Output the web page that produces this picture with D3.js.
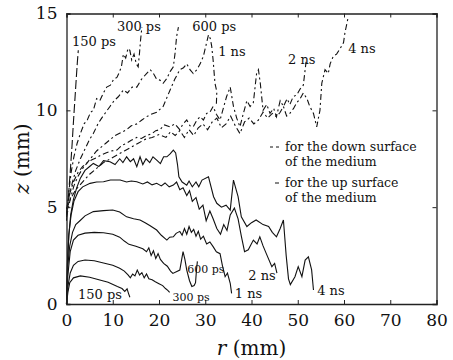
<!DOCTYPE html>
<html>
<head>
<meta charset="utf-8">
<script src="https://cdn.jsdelivr.net/npm/d3@7"></script>
<style>
  body { margin: 0; background: #fff; }
  text { font-family: "DejaVu Serif", serif; fill: #111; }
</style>
</head>
<body>
<div id="chart"></div>
<script>
// up surface (solid lines), [r (mm), z (mm)]
const up150ps = [[0,0],[0.3,0.6],[0.7,1.1],[1.5,1.35],[3,1.45],[5,1.38],[7,1.25],[9,1.12],[11,0.9],[12,0.8],[12.6,0.65],[13.1,0.78],[13.4,0.55],[13.7,0.35]];
const up300ps = [[0,0],[0.3,0.9],[0.8,1.6],[1.5,2.0],[2.5,2.2],[4,2.27],[6,2.23],[8,2.12],[10,2.0],[11.5,1.85],[12.5,1.7],[13.3,1.5],[13.8,1.35],[14.3,1.55],[14.8,1.45],[15.3,1.75],[15.8,1.5],[16.3,1.62],[16.8,1.35],[17.3,1.55],[17.8,1.3],[18.5,1.25],[19.2,1.15],[20,1.05],[20.8,0.95],[21.4,0.8],[21.9,0.7],[22.3,0.6]];
const up600ps = [[0,0],[0.3,1.5],[0.8,2.7],[1.5,3.3],[2.5,3.55],[4,3.66],[6,3.7],[8,3.68],[10,3.6],[11.5,3.45],[12.5,3.25],[13.5,3.08],[15,2.98],[16.5,2.85],[17.3,2.7],[17.8,2.9],[18.3,2.5],[18.8,2.75],[19.3,2.35],[19.8,2.6],[20.3,2.3],[21,2.1],[21.8,1.95],[22.5,1.7],[23,1.58],[24.5,1.75],[25.2,2.7],[25.6,2.3],[26,1.75],[26.6,1.2],[27.1,0.9],[27.6,0.95],[27.9,1.1],[28.1,1.75],[28.3,2.2]];
const up1ns = [[0,0],[0.3,2.0],[0.7,3.0],[1.3,3.7],[2,4.1],[2.9,4.3],[4,4.55],[5.8,4.77],[8,4.82],[10,4.85],[11.5,4.75],[13,4.5],[14.5,4.4],[15.9,4.34],[17,4.2],[18,4.05],[19.5,3.82],[20.5,3.55],[21.7,3.3],[22.3,3.45],[23.1,3.47],[23.7,3.65],[24.5,3.75],[25,3.55],[25.5,3.9],[26,3.6],[26.5,4.0],[27,3.7],[27.5,3.85],[28,3.5],[28.5,3.75],[29,3.35],[29.6,3.5],[30.3,3.1],[31,3.2],[31.7,2.96],[32.4,2.7],[33.2,2.6],[33.7,2.0],[34.3,1.41],[34.8,1.6],[35.4,1.07],[35.7,0.55]];
const up2ns = [[0,0],[0.2,2.2],[0.5,3.6],[1,4.6],[1.6,5.3],[2.5,5.8],[3.5,6.05],[5.1,6.23],[6.5,6.3],[8,6.31],[9.5,6.4],[11.6,6.4],[13,6.3],[14,6.35],[15.2,6.31],[16.5,6.2],[17.5,6.3],[18.5,6.15],[19.5,6.23],[20.5,6.1],[21.3,6.25],[22.2,6.05],[23.1,6.14],[23.8,6.3],[24.5,5.9],[25.2,6.0],[26,5.6],[26.6,5.85],[27.2,5.3],[28,5.5],[28.7,4.9],[29.5,5.1],[30.2,4.3],[31,4.8],[31.7,4.4],[32.5,3.9],[33.3,3.6],[34,4.1],[34.7,3.8],[35.4,4.6],[36.3,4.95],[37.1,4.4],[37.8,3.5],[38.5,2.7],[39.3,2.8],[40.4,3.3],[41.2,3.1],[41.8,3.47],[42.5,3.0],[43.2,2.6],[44.4,1.93],[45.0,2.1],[45.5,1.6]];
const up4ns = [[0,0],[0.2,2],[0.5,3.5],[0.9,4.6],[1.5,5.4],[2.2,6.0],[3,6.5],[4,6.9],[5,7.1],[5.8,7.26],[7,7.1],[8,7.4],[9.4,7.35],[10.5,7.2],[11.5,7.5],[12.2,7.3],[13,7.6],[13.8,7.35],[14.5,7.5],[15.2,7.09],[15.9,7.6],[16.5,7.2],[17.2,7.5],[18,7.3],[18.7,7.6],[19.5,7.43],[20.3,7.25],[21,7.6],[21.7,7.6],[22.4,7.75],[23.1,7.95],[23.6,7.8],[24.0,7.2],[24.3,6.57],[25,6.3],[26,6.14],[26.5,6.35],[27.2,6.05],[28,6.3],[28.6,6.05],[29.3,6.4],[30.7,6.57],[31.8,5.54],[32.5,5.2],[33.5,5.0],[34.5,5.1],[35.4,4.85],[36.1,6.4],[37.1,5.54],[37.8,4.5],[39,4.0],[40,4.2],[41,4.34],[42.5,4.1],[43.7,4.0],[44.5,3.7],[45.4,3.47],[46.2,3.9],[46.9,4.34],[47.5,2.5],[48.0,1.3],[48.4,1.0],[49.4,1.41],[50.1,1.93],[50.9,1.41],[51.6,2.27],[52.3,2.44],[53.0,1.76],[53.4,0.72]];

// down surface (dashed lines)
const down150ps = [[0,4.3],[0.4,5.5],[0.8,6.8],[1.2,8.2],[1.5,9.4],[1.8,10.5],[2.1,11.6],[2.35,12.5],[2.55,13.1]];
const down300ps = [[0,4.6],[0.5,5.8],[1,6.8],[1.6,7.6],[2.3,8.3],[3,8.8],[3.8,9.3],[4.5,9.5],[5.2,9.9],[5.8,10.0],[6.5,10.6],[7.2,10.5],[8,10.9],[8.7,11.2],[9.5,11.3],[10.2,11.6],[10.9,11.7],[11.5,12.0],[11.9,12.3],[12.3,12.9],[12.8,12.7],[13.3,13.2],[13.7,13.1],[14.1,12.6],[14.6,12.9],[15.1,12.4],[15.5,12.25],[15.8,13.0],[16.0,13.6],[16.3,14.3]];
const down600ps = [[0,4.7],[0.6,5.6],[1.3,6.3],[2,6.9],[3,7.5],[4,8.0],[5,8.5],[5.8,8.8],[6.8,9.3],[7.6,9.6],[8.5,9.9],[9.4,10.2],[10.3,10.5],[11.2,10.7],[12.3,11.05],[13.2,10.9],[14.2,11.2],[15.2,11.2],[16.2,11.6],[17.3,11.9],[18.1,12.1],[18.8,11.9],[19.5,11.6],[20.2,11.56],[20.9,11.4],[21.7,11.65],[22.4,12.0],[23.1,12.25],[23.5,13.0],[23.8,13.8],[24.2,14.3]];
const down1ns = [[0,4.5],[0.8,5.4],[1.6,6.1],[2.5,6.6],[3.5,7.0],[4.5,7.3],[5.5,7.6],[6.5,7.9],[7.5,8.1],[8.5,8.3],[9.5,8.5],[10.5,8.7],[11.8,8.85],[13,9.0],[14,9.2],[15.2,9.3],[16.3,9.5],[17.3,9.67],[18.3,9.8],[19.5,9.9],[20.9,10.2],[21.6,10.6],[22.4,11.05],[23.4,11.6],[24.5,12.1],[25.3,12.2],[26,12.4],[26.7,12.1],[27.4,11.9],[28.2,12.1],[28.9,12.4],[29.6,12.8],[30.3,13.5],[30.7,13.9],[31.1,13.7],[31.4,13.3],[31.7,12.6],[32.1,11.4],[32.5,10.96],[32.4,10.3]];
const down2ns = [[0,4.9],[0.7,5.7],[1.5,6.3],[2.5,6.8],[3.5,7.1],[4.5,7.3],[5.5,7.45],[6.5,7.55],[7.5,7.7],[8.5,7.8],[9.7,7.9],[10.9,7.95],[12,8.2],[13,8.3],[14,8.45],[15.2,8.6],[16.2,8.55],[17.3,8.7],[18.5,8.8],[19.3,8.95],[20.2,9.0],[21.2,9.25],[22.4,9.15],[23.4,9.3],[24.5,9.0],[25.2,9.3],[26,9.5],[26.7,9.2],[27.4,9.15],[28.2,9.5],[28.9,9.67],[29.6,9.5],[30.3,9.84],[31,9.9],[31.7,10.2],[32.4,9.8],[33.2,9.5],[33.9,10.1],[34.6,10.7],[35.4,11.2],[36.1,10.2],[36.8,9.6],[37.5,9.15],[38.2,9.8],[39,10.5],[39.7,10.2],[40.4,10.4],[41.1,11.9],[41.5,12.1],[41.9,11.4],[42.5,10.0],[43.3,10.3],[44,9.84],[44.8,10.1],[45.4,9.67],[46.2,10.5],[46.9,10.2],[47.7,10.6],[48.3,10.3],[49,10.7],[49.8,10.8],[50.5,11.1],[51.2,11.3],[51.6,12.1],[51.8,12.5]];
const down4ns = [[0,4.9],[0.8,5.4],[2,5.9],[3.5,6.3],[5,6.7],[6.5,7.0],[8,7.3],[9.5,7.5],[11,7.7],[12.5,7.9],[14,8.1],[15.5,8.3],[17,8.5],[18.5,8.6],[20,8.75],[21.5,8.6],[22.5,8.9],[23.5,8.7],[24.5,8.95],[25.5,8.6],[26.5,9.0],[27.5,8.7],[28.5,9.1],[29.5,9.3],[30.5,9.0],[31.5,9.4],[32.5,9.6],[33.5,9.1],[34.5,9.3],[35.5,9.7],[36.5,9.2],[37.5,8.8],[38.5,9.4],[39.5,9.6],[40.5,9.3],[41.5,9.5],[42.5,9.9],[43.5,9.6],[44.5,9.84],[45.4,9.67],[46.2,9.9],[46.9,10.2],[47.6,9.7],[48.3,9.84],[49.1,10.1],[49.8,10.4],[50.5,10.6],[51.2,10.9],[52,10.6],[52.6,10.2],[53.4,9.84],[54.1,9.15],[54.8,10.0],[55.2,11.4],[55.9,12.1],[56.6,11.9],[57,12.4],[57.7,12.8],[58.4,12.9],[59.2,13.2],[59.9,13.5],[60.2,14.0],[60.9,14.8]];

const upCurves = [up150ps, up300ps, up600ps, up1ns, up2ns, up4ns];
const downCurves = [down150ps, down300ps, down600ps, down1ns, down2ns, down4ns];

const xTicks = [0, 10, 20, 30, 40, 50, 60, 70, 80];
const yTicks = [0, 5, 10, 15];

// curve labels: [text, r, z, size]
const upLabels = [["150 ps", 2.5, 0.25, 13], ["300 ps", 22.9, 0.15, 11], ["600 ps", 26.1, 1.6, 11],
                  ["1 ns", 36.4, 0.3, 13], ["2 ns", 39.3, 1.25, 13], ["4 ns", 54.2, 0.45, 13]];
const downLabels = [["150 ps", 1.2, 13.3, 13], ["300 ps", 10.9, 14.1, 13], ["600 ps", 27.2, 14.1, 13],
                    ["1 ns", 32.8, 12.8, 13], ["2 ns", 47.9, 12.4, 13], ["4 ns", 60.9, 12.95, 13]];
const legendLines = [["for the down surface", "of the medium"], ["for the up surface", "of the medium"]];

const W = 453, H = 360;
const margin = { top: 13.5, right: 16.5, bottom: 56, left: 66.5 };

const svg = d3.select("#chart").append("svg")
  .attr("width", W).attr("height", H);
svg.append("rect").attr("width", W).attr("height", H).attr("fill", "#fff");

const x = d3.scaleLinear().domain([0, 80]).range([margin.left, W - margin.right]);
const y = d3.scaleLinear().domain([0, 15]).range([H - margin.bottom, margin.top]);

const line = d3.line().x(d => x(d[0])).y(d => y(d[1]));

// curves
svg.append("g").selectAll("path.up")
  .data(upCurves).enter().append("path")
  .attr("class", "up")
  .attr("d", line)
  .attr("fill", "none").attr("stroke", "#111").attr("stroke-width", 1.1);

svg.append("g").selectAll("path.down")
  .data(downCurves).enter().append("path")
  .attr("class", "down")
  .attr("d", line)
  .attr("fill", "none").attr("stroke", "#111").attr("stroke-width", 1.1)
  .attr("stroke-dasharray", (d, i) => i == 0 ? "9,3" : "6,3,2,3");

// axes, ticks point inward
function styleAxis(g) {
  g.select(".domain").attr("stroke", "#222").attr("stroke-width", 1.3);
  g.selectAll(".tick line").attr("stroke", "#222");
  g.selectAll(".tick text").attr("font-family", "DejaVu Serif, serif").attr("font-size", 17).attr("fill", "#111");
}
svg.append("g").attr("transform", `translate(0,${y(0)})`)
  .call(d3.axisBottom(x).tickValues(xTicks).tickSize(-4).tickPadding(10))
  .call(styleAxis);
svg.append("g").attr("transform", `translate(0,${y(15)})`)
  .call(d3.axisTop(x).tickValues(xTicks).tickSize(-4).tickFormat(""))
  .call(styleAxis);
svg.append("g").attr("transform", `translate(${x(0)},0)`)
  .call(d3.axisLeft(y).tickValues(yTicks).tickSize(-4).tickPadding(9))
  .call(styleAxis);
svg.append("g").attr("transform", `translate(${x(80)},0)`)
  .call(d3.axisRight(y).tickValues(yTicks).tickSize(-4).tickFormat(""))
  .call(styleAxis);

// axis titles
const xt = svg.append("text").attr("x", (x(0) + x(80)) / 2).attr("y", 355)
  .attr("text-anchor", "middle").attr("font-size", 20);
xt.append("tspan").attr("font-style", "italic").text("r");
xt.append("tspan").text(" (mm)");

const yt = svg.append("text")
  .attr("transform", `translate(29,${(y(0) + y(15)) / 2}) rotate(-90)`)
  .attr("text-anchor", "middle").attr("font-size", 20);
yt.append("tspan").attr("font-style", "italic").text("z");
yt.append("tspan").text(" (mm)");

// curve labels
svg.append("g").selectAll("text")
  .data(upLabels.concat(downLabels)).enter().append("text")
  .attr("x", d => x(d[1])).attr("y", d => y(d[2]))
  .attr("font-size", d => d[3])
  .text(d => d[0]);

// legend
const lg = svg.append("g");
lg.append("line").attr("x1", 270).attr("x2", 281).attr("y1", 147).attr("y2", 147)
  .attr("stroke", "#111").attr("stroke-dasharray", "3,3");
lg.append("line").attr("x1", 275).attr("x2", 279).attr("y1", 183).attr("y2", 183)
  .attr("stroke", "#111");
legendLines.forEach((ls, i) => {
  ls.forEach((t, j) => {
    lg.append("text").attr("x", 285).attr("y", 151 + i * 36 + j * 14.5)
      .attr("font-size", 12.5).text(t);
  });
});
</script>
</body>
</html>
